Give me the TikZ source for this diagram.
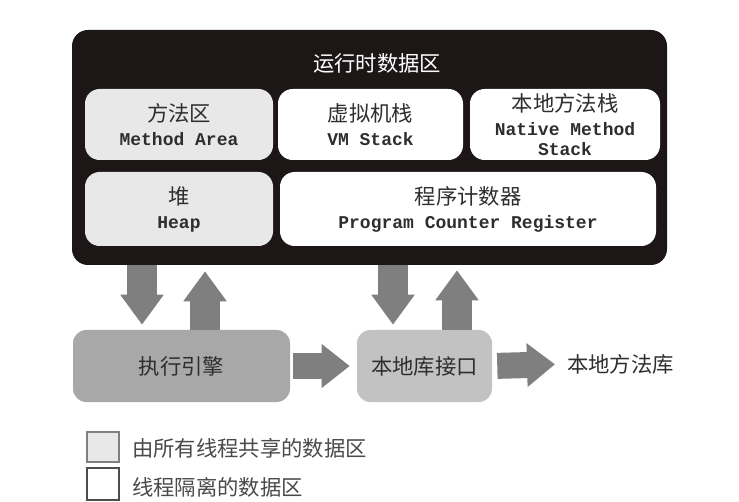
\documentclass[tikz,border=0pt]{standalone}
\usepackage{fontspec}
\setmonofont{Liberation Mono}
\newfontfamily\cjk{Noto Sans CJK SC}
\usetikzlibrary{arrows.meta}
\definecolor{boxblack}{HTML}{1C1616}
\definecolor{sharedgray}{HTML}{E8E8E8}
\definecolor{execgray}{HTML}{A8A8A8}
\definecolor{nligray}{HTML}{C2C2C2}
\definecolor{arrowgray}{HTML}{7F7F7F}
\definecolor{txt}{HTML}{2E2E2E}
\definecolor{legtxt}{HTML}{4A4A4A}
\tikzset{
  areabox/.style={rounded corners=11pt, inner sep=0pt, align=center, text=txt,
    font=\ttfamily\bfseries\fontsize{13.5}{15}\selectfont},
  shared/.style={areabox, fill=sharedgray},
  isolated/.style={areabox, fill=white},
  cjktext/.style={font=\cjk\fontsize{16}{18}\selectfont},
  lowbox/.style={rounded corners=10pt, inner sep=0pt, text=txt, cjktext,
    minimum height=54pt},
  varrow/.style={draw=arrowgray, line width=22.5pt,
    -{Triangle[width=31pt,length=22.5pt]}},
  harrow/.style={draw=arrowgray, line width=19.5pt,
    -{Triangle[width=31.5pt,length=21pt]}},
  legbox/.style={line width=0.8pt, inner sep=0pt, minimum width=24pt}
}
\begin{document}
\begin{tikzpicture}[x=0.75pt,y=-0.75pt]
\useasboundingbox (0,0) rectangle (739,502);
\fill[white] (0,0) rectangle (739,502);

% runtime data area
\node[fill=boxblack, rounded corners=12pt, minimum width=446.25pt,
  minimum height=176.25pt, inner sep=0pt] (rt) at (369.5,147.5) {};
\node[cjktext, text=white] (title) at (377,63) {运行时数据区};

\node[shared, minimum width=141pt, minimum height=53.25pt] (ma) at (179,124.5)
  {{\cjk\mdseries\fontsize{16}{15}\selectfont 方法区}\\[3pt]Method Area};
\node[isolated, minimum width=138.75pt, minimum height=53.25pt] (vm) at (370.5,124.5)
  {{\cjk\mdseries\fontsize{16}{15}\selectfont 虚拟机栈}\\[3pt]VM Stack};
\node[isolated, minimum width=142.5pt, minimum height=53.25pt] (nm) at (565,124.5)
  {{\cjk\mdseries\fontsize{16}{15}\selectfont 本地方法栈}\\[3pt]Native Method\\Stack};
\node[shared, minimum width=141pt, minimum height=55.5pt] (heap) at (179,209)
  {{\cjk\mdseries\fontsize{16}{15}\selectfont 堆}\\[3pt]Heap};
\node[isolated, minimum width=282pt, minimum height=55.5pt] (pcr) at (468,209)
  {{\cjk\mdseries\fontsize{16}{15}\selectfont 程序计数器}\\[3pt]Program Counter Register};

% lower row
\node[lowbox, fill=execgray, minimum width=162.75pt] (exec) at (181.5,366) {执行引擎};
\node[lowbox, fill=nligray, minimum width=101.25pt] (nli) at (424.5,366) {本地库接口};
\node[cjktext, text=txt, anchor=west, inner sep=0pt] (lib) at (567,364) {本地方法库};

% arrow columns
\coordinate (c1) at (142,0);
\coordinate (c2) at (205,0);
\coordinate (c3) at (393,0);
\coordinate (c4) at (457,0);

\draw[varrow, shorten >=3.75pt] (rt.south -| c1) -- (exec.north -| c1);
\draw[varrow, shorten >=4.5pt] (exec.north -| c2) -- (rt.south -| c2);
\draw[varrow, shorten >=3.75pt] (rt.south -| c3) -- (nli.north -| c3);
\draw[varrow, shorten >=3.75pt] (nli.north -| c4) -- (rt.south -| c4);
\draw[harrow, shorten <=2.25pt, shorten >=5.25pt] (exec.east) -- (nli.west);
\draw[harrow, shorten <=3.75pt, shorten >=9pt] (nli.east) -- (lib.west);

% legend
\node[legbox, fill=sharedgray, draw=gray, minimum height=22.5pt] (lg1) at (103,447) {};
\node[legbox, fill=white, draw=black!70, minimum height=24pt] (lg2) at (103,484) {};
\node[cjktext, text=legtxt, anchor=west, inner sep=0pt] (lt1) at (132,448) {由所有线程共享的数据区};
\node[cjktext, text=legtxt, anchor=west, inner sep=0pt] (lt2) at (132,487) {线程隔离的数据区};
\end{tikzpicture}
\end{document}
